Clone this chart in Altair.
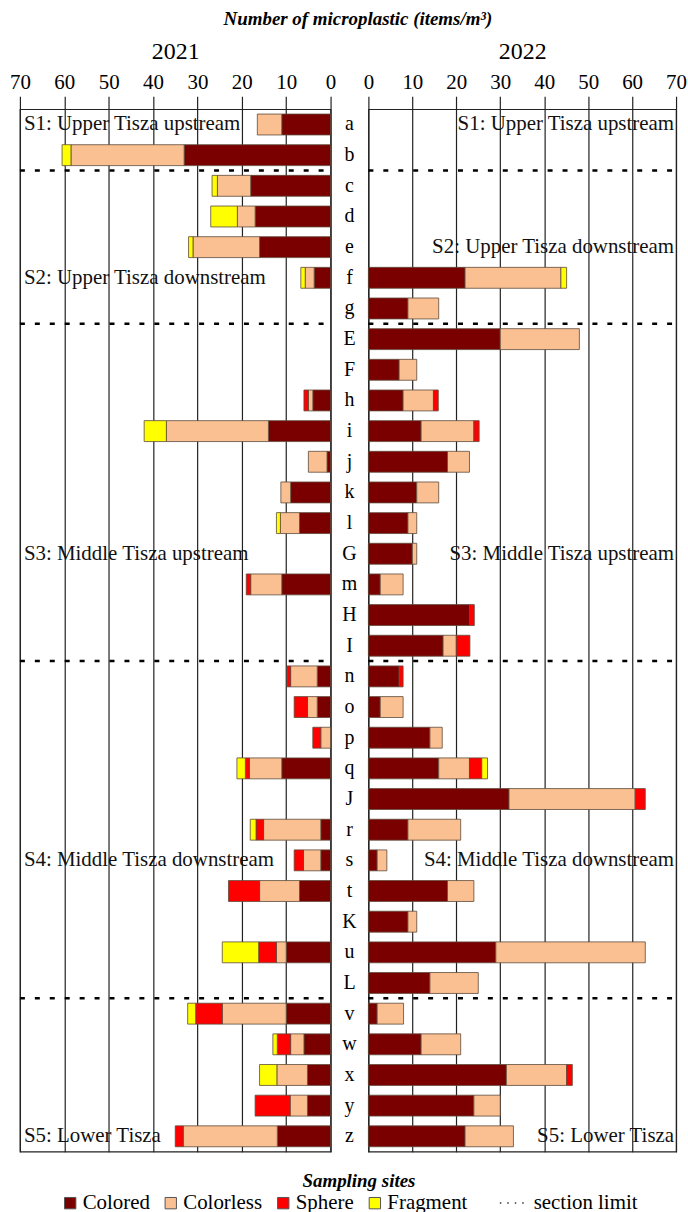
import altair as alt
import pandas as pd

# Sampling sites, top to bottom
sites = ["a", "b", "c", "d", "e", "f", "g", "E", "F", "h", "i", "j", "k", "l", "G", "m", "H", "I",
         "n", "o", "p", "q", "J", "r", "s", "t", "K", "u", "L", "v", "w", "x", "y", "z"]

types = ["Colored", "Colorless", "Sphere", "Fragment"]
type_colors = ["#7a0000", "#fac092", "#ff0000", "#ffff00"]

# 2021 (items/m3)
colored_2021 = [11, 33, 18, 17, 16, 3.7, 0, 0, 0, 4, 14, 0.8, 9, 7, 0, 11, 0, 0,
                3, 3, 0, 11, 0, 2.2, 2.2, 7, 0, 10, 0, 10, 6, 5.2, 5.2, 12]
colorless_2021 = [5.5, 25.5, 7.5, 4, 15, 2, 0, 0, 0, 1, 23, 4.2, 2.2, 4.3, 0, 7, 0, 0,
                  6, 2.2, 2.2, 7.3, 0, 12.9, 3.9, 9, 0, 2.2, 0, 14.4, 3, 6.9, 3.9, 21.2]
sphere_2021 = [0, 0, 0, 0, 0, 0, 0, 0, 0, 1, 0, 0, 0, 0, 0, 1, 0, 0,
               0.8, 3, 1.8, 0.9, 0, 1.7, 2.1, 7, 0, 4, 0, 6, 3, 0, 7.9, 1.8]
fragment_2021 = [0, 2, 1.2, 6, 1, 1, 0, 0, 0, 0, 5, 0, 0, 0.9, 0, 0, 0, 0,
                 0, 0, 0, 1.9, 0, 1.3, 0, 0, 0, 8.2, 0, 1.8, 1, 3.9, 0, 0]

# 2022 (items/m3)
colored_2022 = [0, 0, 0, 0, 0, 22, 9, 30, 7, 7.9, 12, 18, 11, 9, 10, 2.7, 23, 17,
                7, 2.7, 14, 16, 32, 9, 2, 18, 9, 29, 14, 2, 12, 31.4, 24, 22]
colorless_2022 = [0, 0, 0, 0, 0, 21.8, 7, 18, 4, 6.9, 12, 5, 5, 2, 1, 5.2, 0, 3,
                  0, 5.2, 2.8, 7, 28.7, 12, 2.2, 6, 2, 34, 11, 6, 9, 13.7, 6, 11]
sphere_2022 = [0, 0, 0, 0, 0, 0, 0, 0, 0, 1.1, 1.2, 0, 0, 0, 0, 0, 1.1, 3.1,
               0.9, 0, 0, 2.8, 2.3, 0, 0, 0, 0, 0, 0, 0, 0, 1.3, 0, 0]
fragment_2022 = [0, 0, 0, 0, 0, 1.3, 0, 0, 0, 0, 0, 0, 0, 0, 0, 0, 0, 0,
                 0, 0, 0, 1.3, 0, 0, 0, 0, 0, 0, 0, 0, 0, 0, 0, 0]

# River sections
section_names = ["S1: Upper Tisza upstream", "S2: Upper Tisza downstream",
                 "S3: Middle Tisza upstream", "S4: Middle Tisza downstream", "S5: Lower Tisza"]
section_rows_2021 = ["a", "f", "G", "s", "z"]
section_rows_2022 = ["a", "e", "G", "s", "z"]
# first site of each new section (dotted limit drawn above it)
limit_sites = ["c", "E", "n", "v"]
limit_label = ["section limit"]

FONT = "Liberation Serif"
H = 1047
W_LEFT, W_MID, W_RIGHT = 312, 38, 309


def long_table(arrays):
    rows = []
    for k, (t, vals) in enumerate(zip(types, arrays)):
        for s, v in zip(sites, vals):
            if v > 0:
                rows.append({"site": s, "type": t, "order": k, "value": v})
    return pd.DataFrame(rows)


df21 = long_table([colored_2021, colorless_2021, sphere_2021, fragment_2021])
df22 = long_table([colored_2022, colorless_2022, sphere_2022, fragment_2022])
lab21 = pd.DataFrame({"site": section_rows_2021, "label": section_names})
lab22 = pd.DataFrame({"site": section_rows_2022, "label": section_names})
limits = pd.DataFrame({"site": limit_sites})
limit_key = pd.DataFrame({"kind": limit_label})

y_scale = alt.Scale(domain=sites, paddingInner=0, paddingOuter=0)

color_enc = alt.Color(
    "type:N",
    scale=alt.Scale(domain=types, range=type_colors),
    legend=alt.Legend(orient="none", legendX=40, legendY=1088, direction="horizontal",
                      title=None, symbolType="square", symbolSize=130,
                      symbolStrokeColor="#555555", symbolStrokeWidth=1,
                      labelFont=FONT, labelFontSize=21, labelColor="black",
                      columnPadding=10, labelOffset=2),
)


def panel(df, labels, year, reverse, width, text_align, with_key=False):
    x_enc = alt.X(
        "value:Q", stack="zero",
        scale=alt.Scale(domain=[0, 70], reverse=reverse, nice=False),
        axis=alt.Axis(orient="top", values=list(range(0, 71, 10)), title=year,
                      grid=True, gridColor="#222222", gridWidth=1.2, gridOpacity=1,
                      ticks=True, tickSize=13, tickColor="#222222", tickWidth=1.2,
                      domain=False, labelFlush=False,
                      labelFont=FONT, labelFontSize=21, labelColor="black", labelPadding=4,
                      titleFont=FONT, titleFontSize=24, titleFontWeight="normal",
                      titleColor="black", titlePadding=8),
    )
    bars = alt.Chart(df).mark_bar(size=21, stroke="#5e4a3a", strokeWidth=0.8).encode(
        x=x_enc,
        y=alt.Y("site:N", scale=y_scale, axis=None),
        color=color_enc,
        order=alt.Order("order:Q"),
    )
    rules = alt.Chart(limits).mark_rule(color="black", strokeWidth=2.6, strokeDash=[5, 10]).encode(
        x=alt.value(0), x2=alt.value(width),
        y=alt.Y("site:N", bandPosition=0, scale=y_scale, axis=None),
    )
    if text_align == "left":
        text = alt.Chart(labels).mark_text(align="left", baseline="middle", font=FONT,
                                           fontSize=21, color="#111111", dx=4)
        text = text.encode(x=alt.value(0), y=alt.Y("site:N", scale=y_scale, axis=None),
                           text="label:N")
    else:
        text = alt.Chart(labels).mark_text(align="right", baseline="middle", font=FONT,
                                           fontSize=21, color="#111111", dx=-2)
        text = text.encode(x=alt.value(width), y=alt.Y("site:N", scale=y_scale, axis=None),
                           text="label:N")
    layers = [bars, rules, text]
    if with_key:
        # zero-length rule that only carries the legend entry for the dotted limits
        key = alt.Chart(limit_key).mark_rule(color="#333333", strokeWidth=1.5).encode(
            x=alt.value(0), x2=alt.value(0), y=alt.value(0),
            strokeDash=alt.StrokeDash(
                "kind:N",
                scale=alt.Scale(domain=limit_label, range=[[1.5, 6]]),
                legend=alt.Legend(orient="none", legendX=481, legendY=1084, title=None,
                                  symbolType="stroke", symbolStrokeWidth=1.5,
                                  symbolStrokeColor="#333333", symbolSize=729,
                                  labelFont=FONT, labelFontSize=21, labelColor="black",
                                  labelOffset=6),
            ),
        )
        layers.append(key)
    return alt.layer(*layers).properties(width=width, height=H)


left = panel(df21, lab21, "2021", True, W_LEFT, "left", with_key=True)
right = panel(df22, lab22, "2022", False, W_RIGHT, "right")

middle = alt.Chart(pd.DataFrame({"site": sites})).transform_calculate(pos="0.5").mark_text(
    font=FONT, fontSize=20, baseline="middle", color="black"
).encode(
    x=alt.X("pos:Q", scale=alt.Scale(domain=[0, 1]),
            axis=alt.Axis(orient="bottom", title="Sampling sites", labels=False, ticks=False,
                          domain=False, grid=False, titleFont=FONT, titleFontSize=19,
                          titleFontStyle="italic", titleFontWeight="bold", titleColor="black",
                          titlePadding=20, titleX=28)),
    y=alt.Y("site:N", scale=y_scale, axis=None),
    text="site:N",
).properties(width=W_MID, height=H, view=alt.ViewBackground(stroke="transparent"))

chart = alt.hconcat(left, middle, right, spacing=0, bounds="flush").resolve_scale(
    x="independent", y="independent"
).properties(
    title=alt.TitleParams("Number of microplastic (items/m³)", font=FONT, fontSize=19,
                          fontStyle="italic", fontWeight="bold", color="black",
                          anchor="middle", dx=10, offset=10),
    padding={"left": 8, "top": 7, "right": 0, "bottom": 0},
    background="white",
).configure_view(
    stroke="#222222", strokeWidth=1.2
)

chart.save("out.html", embed_options={"renderer": "svg", "actions": False})
